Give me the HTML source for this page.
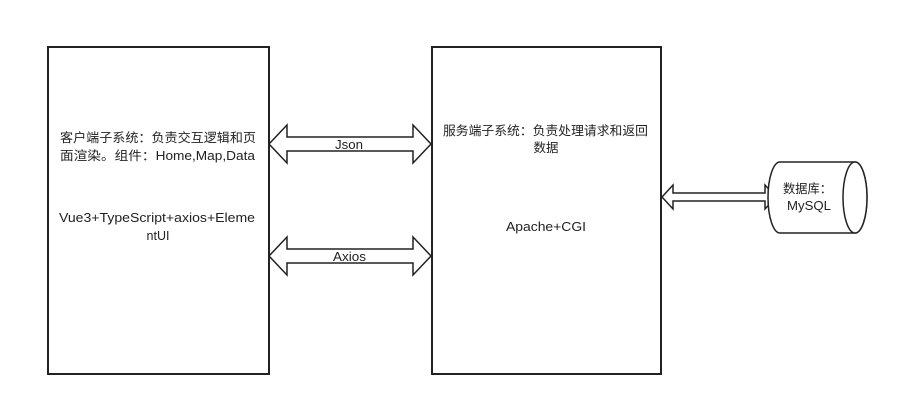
<!DOCTYPE html>
<html><head><meta charset="utf-8"><style>
html,body{margin:0;padding:0;background:#fff;width:901px;height:406px;overflow:hidden}
svg{display:block}
text{font-family:"Liberation Sans","Noto Sans CJK SC",sans-serif;font-size:12.5px;fill:#222}
</style></head><body>
<svg width="901" height="406" viewBox="0 0 901 406" xmlns="http://www.w3.org/2000/svg">
<rect x="48" y="47" width="221" height="327" fill="#fff" stroke="#222" stroke-width="2"/>
<rect x="432" y="47" width="229" height="327" fill="#fff" stroke="#222" stroke-width="2"/>
<g fill="#fff" stroke="#222" stroke-width="1.5">
<polygon points="269,144 287,125 287,137 413,137 413,125 431,144 413,163 413,151 287,151 287,163"/>
<polygon points="269,256 287,237 287,249 413,249 413,237 431,256 413,275 413,263 287,263 287,275"/>
<polygon points="662,197 673,185 673,193 765,193 765,185 776,197 765,209 765,201 673,201 673,209"/>
<path d="M780,162 L855,162 A12,35.5 0 0 1 855,233 L780,233 A12,35.5 0 0 1 780,162 Z"/>
<ellipse cx="855" cy="197.5" rx="12" ry="35.5"/>
</g>
<text x="335" y="149" textLength="28" lengthAdjust="spacingAndGlyphs">Json</text>
<text x="333" y="261" textLength="33" lengthAdjust="spacingAndGlyphs">Axios</text>
<text x="60" y="142" textLength="196" lengthAdjust="spacingAndGlyphs">客户端子系统：负责交互逻辑和页</text>
<text x="60" y="160" textLength="195" lengthAdjust="spacingAndGlyphs">面渲染。组件：Home,Map,Data</text>
<text x="59" y="222" textLength="196" lengthAdjust="spacingAndGlyphs">Vue3+TypeScript+axios+Eleme</text>
<text x="158" y="240" text-anchor="middle">ntUI</text>
<text x="443" y="135" textLength="205" lengthAdjust="spacingAndGlyphs">服务端子系统：负责处理请求和返回</text>
<text x="546" y="152" text-anchor="middle">数据</text>
<text x="506" y="231" textLength="80" lengthAdjust="spacingAndGlyphs">Apache+CGI</text>
<text x="783" y="193" textLength="49" lengthAdjust="spacingAndGlyphs">数据库：</text>
<text x="787" y="210" textLength="44" lengthAdjust="spacingAndGlyphs">MySQL</text>
</svg>
</body></html>
